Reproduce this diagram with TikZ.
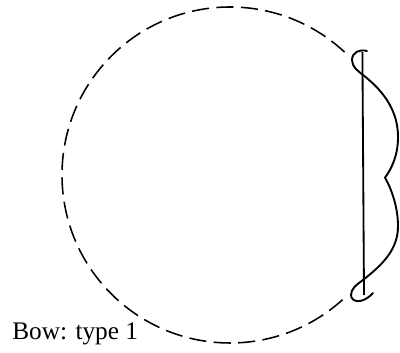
\documentclass[tikz,border=0pt]{standalone}
\usepackage{fontspec}
\setmainfont{Liberation Serif}
\usepackage{tikz}
\tikzset{
  bowline/.style={line width=1.35pt, line cap=round, line join=miter},
  stringline/.style={line width=1.3pt},
  flightpath/.style={line width=1.1pt, dash pattern=on 0.43cm off 0.183cm},
  caption/.style={font=\fontsize{18}{20}\selectfont, inner sep=0pt, anchor=base west},
}
\begin{document}
\begin{tikzpicture}
  \useasboundingbox (0,0) rectangle (10,8.8);

  % dashed circle
  \draw[flightpath] (8.614,7.497) arc[start angle=47, end angle=313, radius=4.2];

  % string
  \coordinate (stringtop) at (9.06,7.5);
  \coordinate (stringbottom) at (9.1,1.42);
  \draw[stringline] (stringtop) -- (stringbottom);

  % bow, two lobes
  \coordinate (notch) at (9.625,4.36);
  \draw[bowline] (9.175,7.525) .. controls (9,7.575) and (8.8,7.5) .. (8.8,7.3)
    .. controls (8.8,7.125) and (8.95,7.025) .. (9.075,6.925)
    .. controls (9.625,6.5) and (9.95,6) .. (9.95,5.375)
    .. controls (9.95,4.925) and (9.8,4.6) .. (notch)
    .. controls (9.8,4.05) and (9.95,3.6) .. (9.95,3.15)
    .. controls (9.95,2.55) and (9.55,2.175) .. (9.075,1.8)
    .. controls (8.9,1.675) and (8.775,1.575) .. (8.775,1.425)
    .. controls (8.775,1.25) and (9.05,1.175) .. (9.325,1.475);

  % label
  \node[caption] (bowlabel) at (0.3,0.325) {Bow: type 1};
\end{tikzpicture}
\end{document}
